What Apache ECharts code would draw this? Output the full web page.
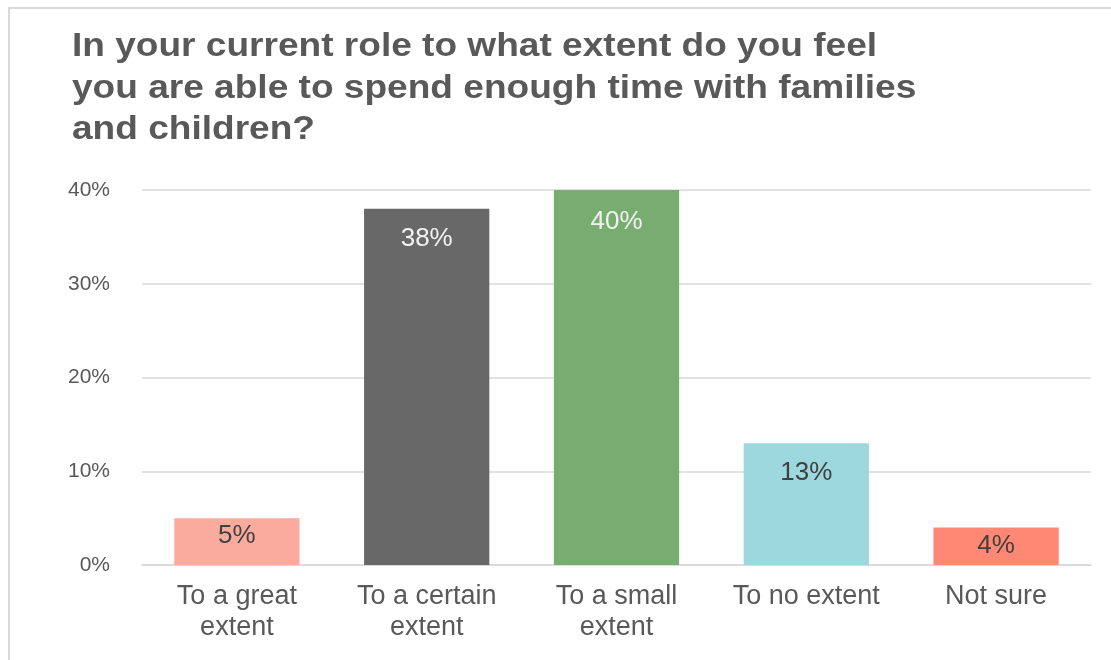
<!DOCTYPE html>
<html>
<head>
<meta charset="utf-8">
<style>
  html, body { margin: 0; padding: 0; background: #ffffff; }
  #chart { width: 1111px; height: 660px; }
</style>
<script src="https://cdn.jsdelivr.net/npm/echarts@6/dist/echarts.min.js"></script>
</head>
<body>
<div id="chart"></div>
<script>
// Survey responses: share of respondents per answer
const titleText = 'In your current role to what extent do you feel\nyou are able to spend enough time with families\nand children?';
const categories = ['To a great\nextent', 'To a certain\nextent', 'To a small\nextent', 'To no extent', 'Not sure'];
const shares = [5, 38, 40, 13, 4];
const barColors = ['#FAAB9D', '#686868', '#79AC70', '#9ED8DF', '#FF8874'];
const labelColors = ['#404040', '#F2F2F2', '#F2F2F2', '#404040', '#404040'];
const yTicks = [0, 10, 20, 30, 40];

const FONT = '"Liberation Sans", Arial, sans-serif';

const chart = echarts.init(document.getElementById('chart'), null, { renderer: 'canvas' });

chart.setOption({
  backgroundColor: '#ffffff',
  animation: false,
  graphic: [
    {
      // light frame around the chart
      type: 'rect',
      silent: true,
      shape: { x: 9, y: 8, width: 1200, height: 700 },
      style: { fill: 'none', stroke: '#D9D9D9', lineWidth: 2 }
    },
    {
      // chart heading, slightly widened type
      type: 'text',
      silent: true,
      x: 72,
      y: 26,
      scaleX: 1.09,
      style: {
        text: titleText,
        fontFamily: FONT,
        fontSize: 34,
        fontWeight: 'bold',
        fill: '#595959',
        lineHeight: 41.5
      }
    }
  ],
  grid: { left: 142, right: 20, top: 190, bottom: 95 },
  xAxis: {
    type: 'category',
    data: categories,
    axisTick: { show: false },
    axisLine: { lineStyle: { color: '#D9D9D9', width: 1.5 } },
    axisLabel: {
      fontFamily: FONT,
      fontSize: 27,
      lineHeight: 31,
      color: '#595959',
      margin: 16,
      interval: 0
    }
  },
  yAxis: {
    type: 'value',
    min: yTicks[0],
    max: yTicks[yTicks.length - 1],
    interval: 10,
    axisLine: { show: false },
    axisTick: { show: false },
    splitLine: { lineStyle: { color: '#D9D9D9', width: 1.5 } },
    axisLabel: {
      fontFamily: FONT,
      fontSize: 21,
      color: '#595959',
      margin: 32,
      formatter: v => v + '%'
    }
  },
  series: [{
    type: 'bar',
    barWidth: '66%',
    data: shares.map((v, i) => ({
      value: v,
      itemStyle: { color: barColors[i] },
      label: { color: labelColors[i], distance: v < 10 ? 5 : (v >= 40 ? 19 : 17) }
    })),
    label: {
      show: true,
      position: 'insideTop',
      fontFamily: FONT,
      fontSize: 26,
      formatter: p => p.value + '%'
    }
  }]
});
</script>
</body>
</html>
